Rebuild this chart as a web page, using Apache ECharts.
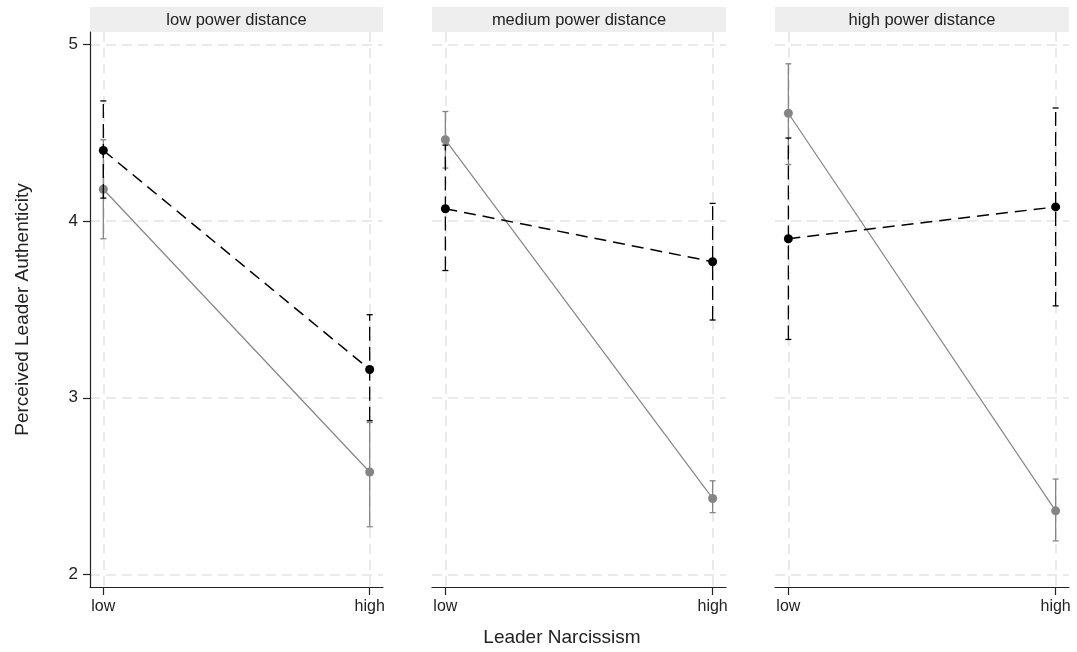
<!DOCTYPE html>
<html>
<head>
<meta charset="utf-8">
<script src="https://cdn.jsdelivr.net/npm/echarts@6/dist/echarts.min.js"></script>
<style>
html,body{margin:0;padding:0;background:#fff;}
#chart{width:1077px;height:652px;}
</style>
</head>
<body>
<div id="chart"></div>
<script>
const categories = ['low', 'high'];
const panelTitles = ['low power distance', 'medium power distance', 'high power distance'];
const yTicks = [2, 3, 4, 5];
// dashed black series (per panel: [low, high])
const blackMean = [[4.40, 3.16], [4.07, 3.77], [3.90, 4.08]];
const blackLow  = [[4.13, 2.87], [3.72, 3.44], [3.33, 3.52]];
const blackHigh = [[4.68, 3.47], [4.43, 4.10], [4.47, 4.64]];
// solid gray series
const grayMean = [[4.18, 2.58], [4.46, 2.43], [4.61, 2.36]];
const grayLow  = [[3.90, 2.27], [4.30, 2.35], [4.32, 2.19]];
const grayHigh = [[4.46, 2.86], [4.62, 2.53], [4.89, 2.54]];
const xTitle = 'Leader Narcissism';
const yTitle = 'Perceived Leader Authenticity';

const FONT = 'Liberation Sans, Arial, sans-serif';
const gridLefts = [90, 432, 775];
const gridWidths = [293, 294, 294];
const gridTop = 32, gridHeight = 555;
const GRAY = '#858585';
const GRIDC = '#e4e4e4';

function errRender(color, dash, width) {
  return function (params, api) {
    const x = api.value(0);
    const p1 = api.coord([x, api.value(1)]);
    const p2 = api.coord([x, api.value(2)]);
    const cw = 3;
    const st = {stroke: color, lineWidth: width};
    return {
      type: 'group',
      children: [
        {type: 'line', shape: {x1: p1[0], y1: p1[1], x2: p2[0], y2: p2[1]},
         style: Object.assign({lineDash: dash}, st)},
        {type: 'line', shape: {x1: p1[0] - cw, y1: p1[1], x2: p1[0] + cw, y2: p1[1]}, style: st},
        {type: 'line', shape: {x1: p2[0] - cw, y1: p2[1], x2: p2[0] + cw, y2: p2[1]}, style: st}
      ]
    };
  };
}

const grids = [], xAxes = [], yAxes = [], series = [], graphics = [];
for (let i = 0; i < 3; i++) {
  grids.push({left: gridLefts[i], top: gridTop, width: gridWidths[i], height: gridHeight});
  xAxes.push({
    type: 'value', gridIndex: i, min: -0.05, max: 1.05,
    axisLine: {show: true, onZero: false, lineStyle: {color: '#222', width: 1.2}},
    axisTick: {show: true, customValues: [0, 1], length: 8, lineStyle: {color: '#222', width: 1.2}},
    axisLabel: {show: true, customValues: [0, 1], margin: 12, color: '#222', fontSize: 16, fontFamily: FONT,
      formatter: v => categories[Math.round(v)]},
    splitLine: {show: true, lineStyle: {color: GRIDC, width: 1.5, type: [10, 6]}}
  });
  yAxes.push({
    type: 'value', gridIndex: i, min: 1.929, max: 5.07,
    axisLine: {show: i === 0, onZero: false, lineStyle: {color: '#222', width: 1.2}},
    axisTick: {show: i === 0, customValues: yTicks, length: 7, lineStyle: {color: '#222', width: 1.2}},
    axisLabel: {show: i === 0, customValues: yTicks, margin: 12, color: '#222', fontSize: 17, fontFamily: FONT},
    splitLine: {show: true, lineStyle: {color: GRIDC, width: 1.5, type: [10, 6]}},
    name: i === 0 ? yTitle : '',
    nameLocation: 'middle', nameGap: 58, nameRotate: 90,
    nameTextStyle: {color: '#222', fontSize: 19, fontFamily: FONT}
  });
  const gErr = categories.map((c, k) => [k, grayLow[i][k], grayHigh[i][k]]);
  const bErr = categories.map((c, k) => [k, blackLow[i][k], blackHigh[i][k]]);
  series.push({
    type: 'custom', xAxisIndex: i, yAxisIndex: i, z: 2,
    renderItem: errRender(GRAY, null, 1.3), data: gErr, encode: {x: 0, y: [1, 2]}
  });
  series.push({
    type: 'line', xAxisIndex: i, yAxisIndex: i, z: 3,
    data: categories.map((c, k) => [k, grayMean[i][k]]),
    symbol: 'circle', symbolSize: 9,
    lineStyle: {color: GRAY, width: 1.2},
    itemStyle: {color: GRAY}
  });
  series.push({
    type: 'custom', xAxisIndex: i, yAxisIndex: i, z: 4,
    renderItem: errRender('#000', [14, 6], 1.3), data: bErr, encode: {x: 0, y: [1, 2]}
  });
  series.push({
    type: 'line', xAxisIndex: i, yAxisIndex: i, z: 5,
    data: categories.map((c, k) => [k, blackMean[i][k]]),
    symbol: 'circle', symbolSize: 9,
    lineStyle: {color: '#000', width: 1.5, type: [12, 7]},
    itemStyle: {color: '#000'}
  });
  graphics.push({
    type: 'rect', left: gridLefts[i], top: 7,
    shape: {width: gridWidths[i], height: 25},
    style: {fill: '#eeeeee'}
  });
  graphics.push({
    type: 'text', x: gridLefts[i] + gridWidths[i] / 2, y: 20,
    style: {text: panelTitles[i], fill: '#222', font: '16.5px ' + FONT, align: 'center', verticalAlign: 'middle'}
  });
}
graphics.push({
  type: 'text', x: 562, y: 638,
  style: {text: xTitle, fill: '#222', font: '19px ' + FONT, align: 'center', verticalAlign: 'middle'}
});

const chart = echarts.init(document.getElementById('chart'), null, {renderer: 'canvas'});
chart.setOption({
  animation: false,
  backgroundColor: '#ffffff',
  grid: grids, xAxis: xAxes, yAxis: yAxes, series: series, graphic: graphics
});
</script>
</body>
</html>
